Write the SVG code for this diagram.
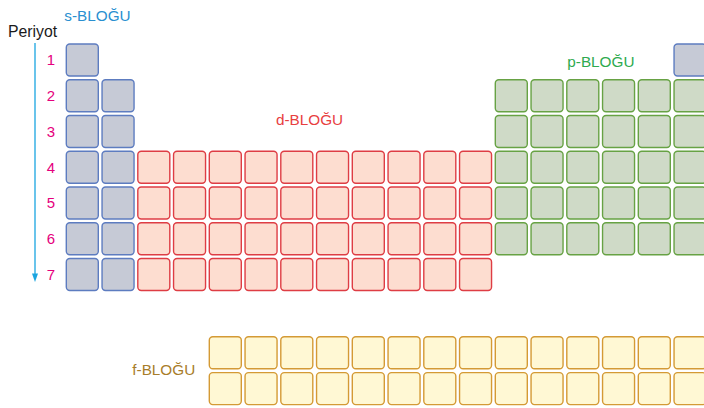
<svg xmlns="http://www.w3.org/2000/svg" xmlns:xlink="http://www.w3.org/1999/xlink" width="704" height="408" viewBox="0 0 704 408">
<style>
text{font-family:"Liberation Sans",Arial,sans-serif;}
.lbl{font-size:15.3px;}
.num{font-size:15px;fill:#e5007d;text-anchor:middle;}
.s{fill:#c6cad6;stroke:#5d7cc0;stroke-width:1.4;}
.d{fill:#fdddd0;stroke:#de3d44;stroke-width:1.4;}
.p{fill:#cfdac7;stroke:#67a244;stroke-width:1.4;}
.f{fill:#fff8d4;stroke:#d49a35;stroke-width:1.4;}
</style>
<defs>
<rect id="c" width="32" height="32" rx="3.5"/>
<g id="row10">
<use href="#c" x="0"/><use href="#c" x="35.75"/><use href="#c" x="71.5"/><use href="#c" x="107.25"/><use href="#c" x="143"/><use href="#c" x="178.75"/><use href="#c" x="214.5"/><use href="#c" x="250.25"/><use href="#c" x="286"/><use href="#c" x="321.75"/>
</g>
<g id="row6">
<use href="#c" x="0"/><use href="#c" x="35.75"/><use href="#c" x="71.5"/><use href="#c" x="107.25"/><use href="#c" x="143"/><use href="#c" x="178.75"/>
</g>
<g id="row14">
<use href="#row10"/><use href="#c" x="357.5"/><use href="#c" x="393.25"/><use href="#c" x="429"/><use href="#c" x="464.75"/>
</g>
<marker id="ah" viewBox="0 0 6 8" refX="3" refY="8" markerWidth="6" markerHeight="8" markerUnits="userSpaceOnUse" orient="auto-start-reverse">
<path d="M0,0 L6,0 L3,8 Z" fill="#1aa5e0" transform="rotate(0)"/>
</marker>
</defs>

<g id="connectors">
<line x1="35" y1="43" x2="35" y2="274" stroke="#1aa5e0" stroke-width="1.3"/>
<path d="M32,273.5 L38,273.5 L35,282 Z" fill="#1aa5e0"/>
</g>

<g id="periyot">
<text class="lbl" x="8" y="36.5" fill="#1a1a1a" style="font-size:15.8px">Periyot</text>
<text class="num" x="51" y="65.3">1</text>
<text class="num" x="51" y="101.05">2</text>
<text class="num" x="51" y="136.8">3</text>
<text class="num" x="51" y="172.55">4</text>
<text class="num" x="51" y="208.3">5</text>
<text class="num" x="51" y="244.05">6</text>
<text class="num" x="51" y="279.8">7</text>
</g>

<g id="s-block" class="s">
<text class="lbl" x="64.3" y="20.7" fill="#2a8fd0" stroke="none">s-BLOĞU</text>
<use href="#c" x="66.3" y="44"/>
<use href="#c" x="66.3" y="79.75"/><use href="#c" x="102.05" y="79.75"/>
<use href="#c" x="66.3" y="115.5"/><use href="#c" x="102.05" y="115.5"/>
<use href="#c" x="66.3" y="151.25"/><use href="#c" x="102.05" y="151.25"/>
<use href="#c" x="66.3" y="187"/><use href="#c" x="102.05" y="187"/>
<use href="#c" x="66.3" y="222.75"/><use href="#c" x="102.05" y="222.75"/>
<use href="#c" x="66.3" y="258.5"/><use href="#c" x="102.05" y="258.5"/>
<use href="#c" x="674.05" y="44"/>
</g>

<g id="d-block" class="d">
<text class="lbl" x="276" y="124.7" fill="#e8403f" stroke="none">d-BLOĞU</text>
<use href="#row10" x="137.8" y="151.25"/>
<use href="#row10" x="137.8" y="187"/>
<use href="#row10" x="137.8" y="222.75"/>
<use href="#row10" x="137.8" y="258.5"/>
</g>

<g id="p-block" class="p">
<text class="lbl" x="567.3" y="66.7" fill="#2eaa4f" stroke="none">p-BLOĞU</text>
<use href="#row6" x="495.3" y="79.75"/>
<use href="#row6" x="495.3" y="115.5"/>
<use href="#row6" x="495.3" y="151.25"/>
<use href="#row6" x="495.3" y="187"/>
<use href="#row6" x="495.3" y="222.75"/>
</g>

<g id="f-block" class="f">
<text class="lbl" x="132.3" y="375" fill="#a87d2a" stroke="none">f-BLOĞU</text>
<use href="#row14" x="209.3" y="336.7"/>
<use href="#row14" x="209.3" y="372.6"/>
</g>
</svg>
